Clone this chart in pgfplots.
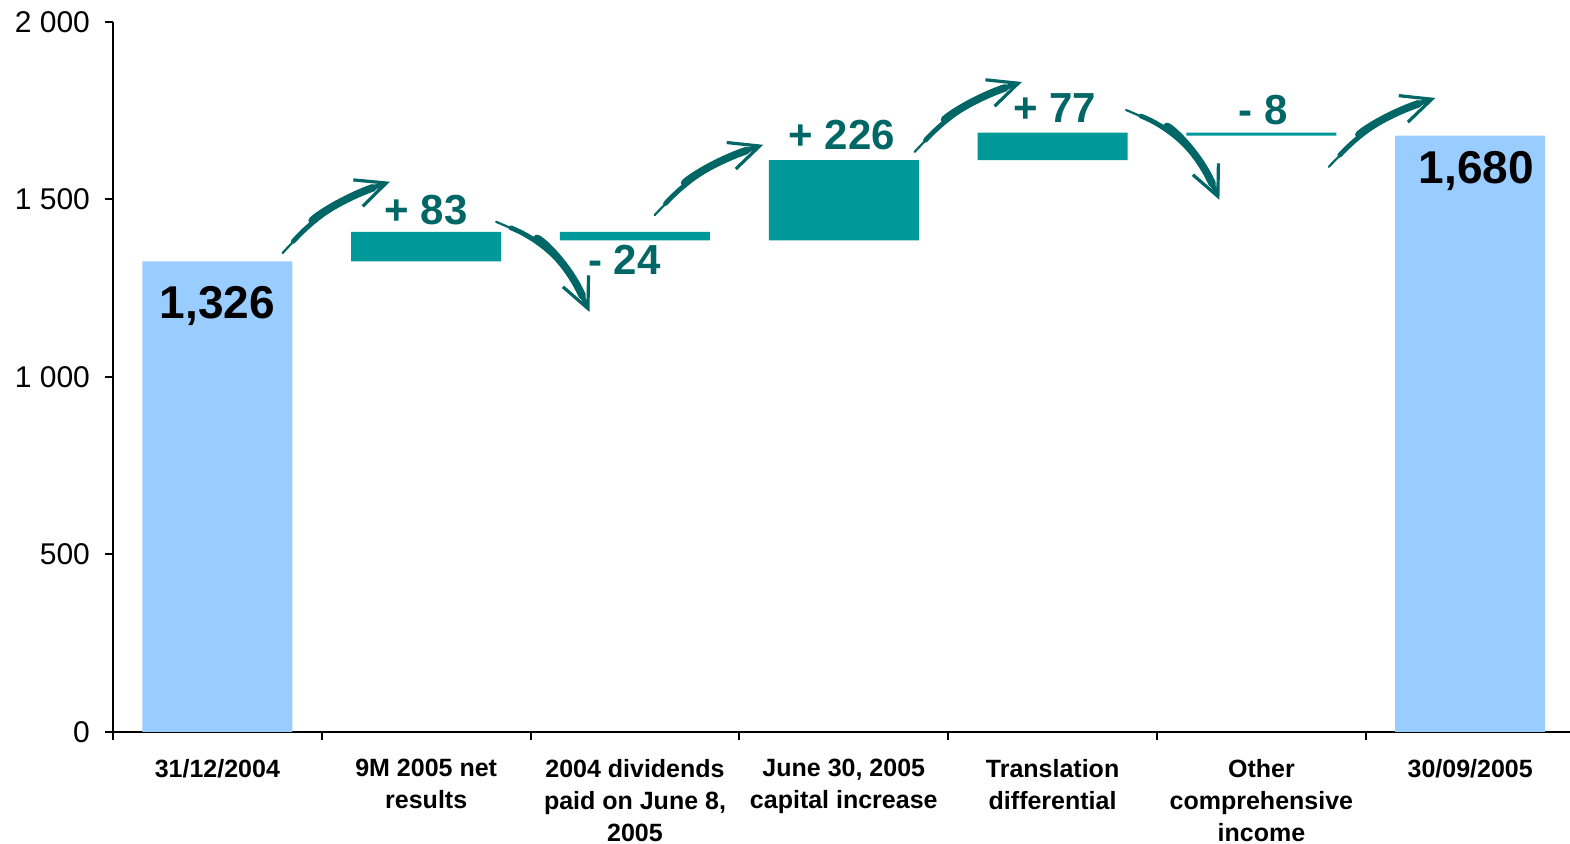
\documentclass[border=0pt]{standalone}
\usepackage{fontspec}
\setmainfont{Liberation Sans}
\usepackage{pgfplots}
\pgfplotsset{compat=1.18}
\usetikzlibrary{arrows.meta}
\definecolor{totalblue}{HTML}{99CCFF}
\definecolor{deltateal}{HTML}{009999}
\definecolor{darkteal}{HTML}{006666}
\tikzset{
  deltalabel/.style={text=darkteal, font=\bfseries\fontsize{21}{24}\selectfont},
  totallabel/.style={text=black, font=\bfseries\fontsize{23}{26}\selectfont},
  flowarrow/.style={draw=darkteal, line width=1.1pt, line cap=round,
    -{Straight Barb[length=15pt, width=14pt, line width=1.6pt]}},
  flowmid/.style={draw=darkteal, line width=2.4pt, line cap=round, shorten <=8pt, shorten >=5pt},
  flowbody/.style={draw=darkteal, line width=3.8pt, line cap=round, shorten <=22pt, shorten >=9pt},
}

\begin{document}
\begin{tikzpicture}
  % page = 1570 x 844 px at 0.5pt per px, axis box lower left at origin
  \useasboundingbox (-56.5pt,-56pt) rectangle (728.5pt,366pt);
  \begin{axis}[
    scale only axis,
    width=730.8pt,
    height=355pt,
    ybar stacked,
    bar width=75pt,
    xmin=-0.5, xmax=6.5,
    ymin=0, ymax=2000,
    axis x line=bottom,
    axis y line=left,
    axis line style={-, line width=1pt},
    tick style={line width=1pt, color=black},
    tick align=outside,
    major tick length=4pt,
    xtick={-0.5,0.5,1.5,2.5,3.5,4.5,5.5,6.5},
    xticklabels={},
    extra x ticks={0,1,2,3,4,5,6},
    extra x tick labels={31/12/2004, {9M 2005 net\\results}, {2004 dividends\\paid on June 8,\\2005},
      {June 30, 2005\\capital increase}, {Translation\\differential},
      {Other\\comprehensive\\income}, 30/09/2005},
    extra x tick style={major tick length=0pt,
      xticklabel style={align=center, font=\bfseries\fontsize{12.5}{16}\selectfont, yshift=-10pt}},
    ytick={0,500,1000,1500,2000},
    yticklabels={0,500,1 000,1 500,2 000},
    yticklabel style={font=\fontsize{15}{16}\selectfont, xshift=-4pt},
    clip=false,
  ]
  % invisible base
  \addplot[draw=none, fill=white, fill opacity=0] coordinates {
    (0,0) (1,1326) (2,1385) (3,1385) (4,1611) (5,1680) (6,0)
  };
  % changes
  \addplot[draw=none, fill=deltateal] coordinates {
    (0,0) (1,83) (2,24) (3,226) (4,77) (5,8) (6,0)
  };
  % totals
  \addplot[draw=none, fill=totalblue] coordinates {
    (0,1326) (1,0) (2,0) (3,0) (4,0) (5,0) (6,1680)
  };

  % anchor points for labels and arrows
  \coordinate (t0) at (axis cs:0,1200);
  \coordinate (t6) at (axis cs:6.03,1580);
  \coordinate (d1) at (axis cs:1.0,1470);
  \coordinate (d2) at (axis cs:1.95,1330);
  \coordinate (d3) at (axis cs:2.99,1682);
  \coordinate (d4) at (axis cs:4.01,1758);
  \coordinate (d5) at (axis cs:5.01,1752);
  \coordinate (a1s) at (axis cs:0.312,1349); \coordinate (a1e) at (axis cs:0.826,1550);
  \coordinate (a2s) at (axis cs:1.335,1437); \coordinate (a2e) at (axis cs:1.782,1183);
  \coordinate (a3s) at (axis cs:2.094,1456); \coordinate (a3e) at (axis cs:2.614,1654);
  \coordinate (a4s) at (axis cs:3.339,1634); \coordinate (a4e) at (axis cs:3.853,1831);
  \coordinate (a5s) at (axis cs:4.352,1752); \coordinate (a5e) at (axis cs:4.799,1499);
  \coordinate (a6s) at (axis cs:5.323,1592); \coordinate (a6e) at (axis cs:5.833,1786);
  \end{axis}

  % value labels
  \node[totallabel] at (t0) {1,326};
  \node[totallabel] at (t6) {1,680};
  \node[deltalabel] at (d1) {+ 83};
  \node[deltalabel] at (d2) {- 24};
  \node[deltalabel] at (d3) {+ 226};
  \node[deltalabel] at (d4) {+ 77};
  \node[deltalabel] at (d5) {- 8};

  % curved arrows
  \foreach \i/\b in {1/14, 2/22, 3/14, 4/14, 5/22, 6/14} {
    \draw[flowarrow] (a\i s) to[bend left=\b] (a\i e);
    \draw[flowmid]   (a\i s) to[bend left=\b] (a\i e);
    \draw[flowbody]  (a\i s) to[bend left=\b] (a\i e);
  }
\end{tikzpicture}
\end{document}
